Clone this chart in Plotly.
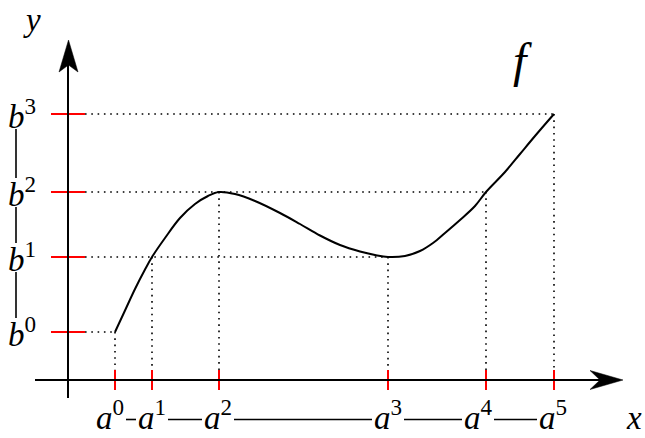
import plotly.graph_objects as go

# Break points on the x axis and their images on the y axis
a_vals = [4.7, 8.4, 15.1, 32.0, 41.8, 48.6]
b_vals = [4.8, 12.3, 18.8, 26.6]
a_names = ["a<sup>0</sup>", "a<sup>1</sup>", "a<sup>2</sup>", "a<sup>3</sup>", "a<sup>4</sup>", "a<sup>5</sup>"]
b_names = ["b<sup>0</sup>", "b<sup>1</sup>", "b<sup>2</sup>", "b<sup>3</sup>"]
# which b each a is mapped to
a_to_b = [0, 1, 2, 1, 2, 3]

# Sampled points of the function f
f_x = [4.7, 5.7, 6.7, 7.7, 8.4, 9.7, 11.2, 12.7, 14.0, 15.1, 16.7, 18.7, 21.2, 23.2,
       25.2, 27.2, 29.2, 30.7, 32.0, 33.7, 35.2, 36.5, 37.7, 39.2, 40.7, 41.8, 43.7,
       45.2, 46.7, 48.6]
f_y = [4.8, 6.95, 9.1, 11.05, 12.3, 14.2, 16.2, 17.6, 18.4, 18.8, 18.6, 17.9, 16.7, 15.6,
       14.45, 13.5, 12.85, 12.5, 12.3, 12.4, 12.9, 13.7, 14.7, 16.0, 17.4, 18.8, 20.8,
       22.6, 24.4, 26.6]

# Layout constants
X_RANGE = [-6.8, 57.7]
Y_RANGE = [-5.8, 38.0]
X_AXIS = (-3.3, 53.4)      # start, end of horizontal axis line
X_TIP = 55.5
Y_AXIS = (-1.8, 31.6)
Y_TIP = 34.0
TICK_HALF_X = 1.0
TICK_HALF_Y = 1.7
DOT = "1.6px,4.7px"
SERIF = "Liberation Serif"
FS = 33
a_shift = [-0.5, 0.0, -0.1, 0.0, -0.8, -0.1]
A_LABEL_BOTTOM = -5.75
B_LABEL_X = -4.65
A_LINK_Y = -3.95
B_LINK_X = -5.2

fig = go.Figure()

# dotted guides
for i, a in enumerate(a_vals):
    by = b_vals[a_to_b[i]]
    fig.add_trace(go.Scatter(x=[a, a], y=[by, TICK_HALF_X], mode="lines",
                             line=dict(color="black", width=1.6, dash=DOT),
                             hoverinfo="skip", showlegend=False))
for j, bv in enumerate(b_vals):
    far = max(a for i, a in enumerate(a_vals) if a_to_b[i] == j)
    fig.add_trace(go.Scatter(x=[TICK_HALF_Y, far], y=[bv, bv], mode="lines",
                             line=dict(color="black", width=1.6, dash=DOT),
                             hoverinfo="skip", showlegend=False))

# red ticks
for a in a_vals:
    fig.add_trace(go.Scatter(x=[a, a], y=[-TICK_HALF_X, TICK_HALF_X], mode="lines",
                             line=dict(color="#ff0000", width=2),
                             hoverinfo="skip", showlegend=False))
for bv in b_vals:
    fig.add_trace(go.Scatter(x=[-TICK_HALF_Y, TICK_HALF_Y], y=[bv, bv], mode="lines",
                             line=dict(color="#ff0000", width=2),
                             hoverinfo="skip", showlegend=False))

# axes
fig.add_trace(go.Scatter(x=[X_AXIS[0], X_AXIS[1]], y=[0, 0], mode="lines",
                         line=dict(color="black", width=2), hoverinfo="skip", showlegend=False))
fig.add_trace(go.Scatter(x=[0, 0], y=[Y_AXIS[0], Y_AXIS[1]], mode="lines",
                         line=dict(color="black", width=2), hoverinfo="skip", showlegend=False))

# the function
fig.add_trace(go.Scatter(x=f_x, y=f_y, mode="lines",
                         line=dict(color="black", width=2, shape="spline", smoothing=1.0),
                         hoverinfo="skip", showlegend=False))

shapes = [
    # stealth arrow heads
    dict(type="path", xref="x", yref="y",
         path=f"M {X_TIP},0 L {X_TIP-3.3},0.95 L {X_TIP-2.3},0 L {X_TIP-3.3},-0.95 Z",
         fillcolor="black", line=dict(color="black", width=0.5), layer="above"),
    dict(type="path", xref="x", yref="y",
         path=f"M 0.05,{Y_TIP} L -0.9,{Y_TIP-3.2} L 0.05,{Y_TIP-2.5} L 1.0,{Y_TIP-3.2} Z",
         fillcolor="black", line=dict(color="black", width=0.5), layer="above"),
]

annotations = []
a_pos = [a + s for a, s in zip(a_vals, a_shift)]
for name, xp in zip(a_names, a_pos):
    annotations.append(dict(x=xp, y=A_LABEL_BOTTOM, xref="x", yref="y", showarrow=False,
                            text=f"<i>{name[0]}</i>{name[1:]}", xanchor="center", yanchor="bottom",
                            font=dict(family=SERIF, size=FS, color="black")))
for k in range(len(a_pos) - 1):
    shapes.append(dict(type="line", xref="x", yref="y",
                       x0=a_pos[k] + 1.6, x1=a_pos[k + 1] - 1.6, y0=A_LINK_Y, y1=A_LINK_Y,
                       line=dict(color="black", width=1.6)))

for name, bv in zip(b_names, b_vals):
    annotations.append(dict(x=B_LABEL_X, y=bv, xref="x", yref="y", showarrow=False,
                            text=f"<i>{name[0]}</i>{name[1:]}", xanchor="center", yanchor="middle",
                            font=dict(family=SERIF, size=FS, color="black")))
for k in range(len(b_vals) - 1):
    shapes.append(dict(type="line", xref="x", yref="y",
                       x0=B_LINK_X, x1=B_LINK_X, y0=b_vals[k] + 1.4, y1=b_vals[k + 1] - 1.5,
                       line=dict(color="black", width=1.6)))

annotations += [
    dict(x=-3.6, y=36.0, xref="x", yref="y", showarrow=False, text="<i>y</i>",
         font=dict(family=SERIF, size=FS, color="black")),
    dict(x=56.6, y=-3.8, xref="x", yref="y", showarrow=False, text="<i>x</i>",
         font=dict(family=SERIF, size=FS, color="black")),
    dict(x=45.4, y=32.0, xref="x", yref="y", showarrow=False, text="<i>f</i>",
         font=dict(family=SERIF, size=48, color="black")),
]

fig.update_layout(
    width=645, height=438,
    margin=dict(l=0, r=0, t=0, b=0),
    paper_bgcolor="white", plot_bgcolor="white",
    xaxis=dict(range=X_RANGE, visible=False, fixedrange=True),
    yaxis=dict(range=Y_RANGE, visible=False, fixedrange=True),
    shapes=shapes, annotations=annotations,
    showlegend=False,
)

fig.write_html("out.html")
